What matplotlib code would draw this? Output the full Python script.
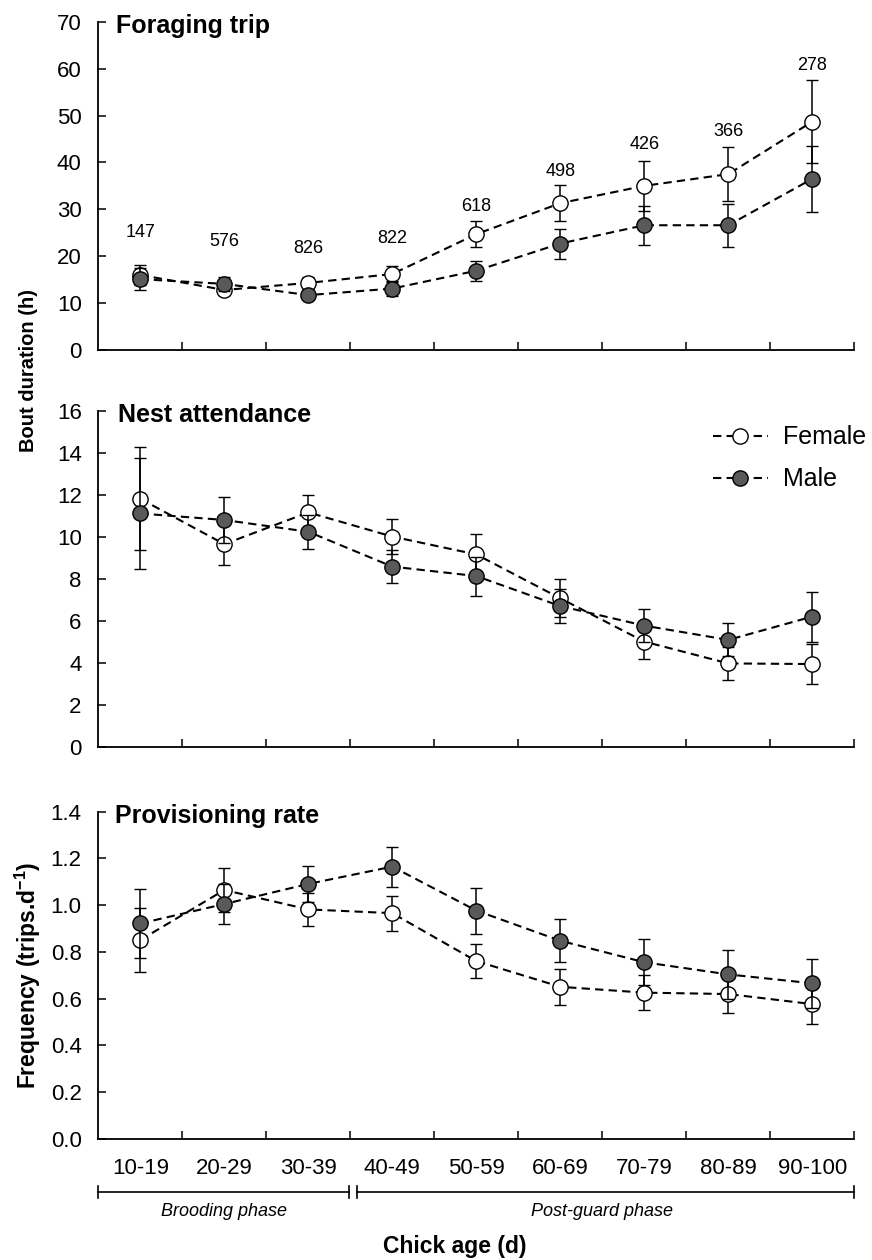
import numpy as np
import matplotlib
matplotlib.use("Agg")
import matplotlib.pyplot as plt
import matplotlib.transforms as mtransforms
from matplotlib.lines import Line2D
from matplotlib.ticker import FormatStrFormatter

plt.rcParams['font.family'] = ['Liberation Sans', 'DejaVu Sans']
plt.rcParams['mathtext.fontset'] = 'custom'
plt.rcParams['mathtext.rm'] = 'Liberation Sans'
plt.rcParams['mathtext.bf'] = 'Liberation Sans:bold'

# chick age classes (d)
age_classes = ["10-19", "20-29", "30-39", "40-49", "50-59",
               "60-69", "70-79", "80-89", "90-100"]

# Foraging trip duration (h)
trip_female = [16.0, 12.8, 14.3, 16.2, 24.7, 31.3, 35.0, 37.5, 48.7]
trip_female_err = [2.2, 1.0, 1.3, 1.8, 2.8, 3.9, 5.3, 5.8, 8.9]
trip_male = [15.1, 14.1, 11.7, 13.1, 16.9, 22.7, 26.6, 26.6, 36.5]
trip_male_err = [2.3, 1.5, 0.9, 1.6, 2.1, 3.2, 4.2, 4.6, 7.0]
trip_n = [147, 576, 826, 822, 618, 498, 426, 366, 278]
trip_n_y = [25.1, 23.1, 21.7, 23.8, 30.6, 38.0, 43.9, 46.6, 60.6]

# Nest attendance bout duration (h)
nest_female = [11.82, 9.66, 11.17, 10.02, 9.17, 7.08, 5.02, 3.98, 3.95]
nest_female_err = [2.45, 1.0, 0.83, 0.82, 0.97, 0.9, 0.83, 0.79, 0.95]
nest_male = [11.12, 10.81, 10.25, 8.59, 8.14, 6.71, 5.78, 5.10, 6.21]
nest_male_err = [2.65, 1.08, 0.82, 0.8, 0.93, 0.8, 0.78, 0.79, 1.19]

# Provisioning rate (trips per day)
prov_female = [0.851, 1.065, 0.982, 0.966, 0.761, 0.651, 0.626, 0.620, 0.577]
prov_female_err = [0.138, 0.093, 0.07, 0.075, 0.073, 0.077, 0.076, 0.081, 0.085]
prov_male = [0.922, 1.005, 1.091, 1.165, 0.977, 0.848, 0.756, 0.704, 0.666]
prov_male_err = [0.147, 0.085, 0.077, 0.085, 0.098, 0.093, 0.098, 0.104, 0.104]

male_color = '#595959'
dash = (0, (4, 2.5))
x = np.arange(len(age_classes))

fig = plt.figure(figsize=(8.72, 12.6), dpi=100)
L, W = 98.3 / 872, 756 / 872
ax_top = fig.add_axes([L, 1 - 350 / 1260, W, 328.3 / 1260])
ax_mid = fig.add_axes([L, 1 - 747 / 1260, W, 336 / 1260])
ax_bot = fig.add_axes([L, 1 - 1139 / 1260, W, 327.3 / 1260])

panels = [
    (ax_top, trip_female, trip_female_err, trip_male, trip_male_err,
     (0, 70), 10, '%d', 'Foraging trip', 0.023),
    (ax_mid, nest_female, nest_female_err, nest_male, nest_male_err,
     (0, 16), 2, '%d', 'Nest attendance', 0.026),
    (ax_bot, prov_female, prov_female_err, prov_male, prov_male_err,
     (0, 1.4), 0.2, '%.1f', 'Provisioning rate', 0.022),
]

for ax, f, fe, m, me, ylim, step, fmt, title, tx in panels:
    common = dict(linestyle=dash, linewidth=1.5, color='black', ecolor='black',
                  elinewidth=1.1, capsize=4.5, capthick=1.1, marker='o',
                  markersize=11, markeredgecolor='black', markeredgewidth=1.0)
    ax.errorbar(x, f, yerr=fe, markerfacecolor='white', zorder=3, **common)
    ax.errorbar(x, m, yerr=me, markerfacecolor=male_color, zorder=4, **common)

    ax.set_xlim(-0.5, len(age_classes) - 0.5)
    ax.set_ylim(*ylim)
    ax.set_yticks(np.arange(ylim[0], ylim[1] + step / 2, step))
    ax.yaxis.set_major_formatter(FormatStrFormatter(fmt))
    ax.set_xticks(np.arange(0.5, len(age_classes), 1))
    ax.set_xticklabels([])
    ax.set_xticks(x, minor=True)
    ax.tick_params(axis='both', which='major', direction='in', length=6,
                   width=1.1, labelsize=16)
    ax.tick_params(axis='y', pad=12)
    ax.tick_params(axis='x', which='minor', length=0)
    for s in ['top', 'right']:
        ax.spines[s].set_visible(False)
    for s in ['left', 'bottom']:
        ax.spines[s].set_linewidth(1.3)
    ax.text(tx, 1 - 4 / 328, title, transform=ax.transAxes, ha='left',
            va='center', fontsize=18, fontweight='bold')

# sample sizes above the foraging trips
for i, n in enumerate(trip_n):
    ax_top.text(x[i], trip_n_y[i], str(n), ha='center', va='center', fontsize=13)

# category labels on the bottom panel only
ax_bot.set_xticklabels(age_classes, minor=True)
ax_bot.tick_params(axis='x', which='minor', labelsize=16, pad=14)

# legend
handles = [
    Line2D([], [], linestyle=dash, linewidth=1.5, color='black', marker='o',
           markersize=11, markerfacecolor='white', markeredgecolor='black'),
    Line2D([], [], linestyle=dash, linewidth=1.5, color='black', marker='o',
           markersize=11, markerfacecolor=male_color, markeredgecolor='black'),
]
ax_mid.legend(handles, ['Female', 'Male'], loc='upper left',
              bbox_to_anchor=(0.813, 0.957), frameon=False, fontsize=18,
              handlelength=2.2, handletextpad=0.6, labelspacing=0.72,
              borderpad=0, borderaxespad=0)

# phase brackets below the age classes
trans = mtransforms.blended_transform_factory(ax_bot.transData, ax_bot.transAxes)
yb, cap = -0.161, 0.018
for x0, x1 in [(-0.5, 2.49), (2.58, 8.5)]:
    ax_bot.plot([x0, x1], [yb, yb], color='black', lw=1.2, transform=trans, clip_on=False)
    for xe in (x0, x1):
        ax_bot.plot([xe, xe], [yb - cap, yb + cap], color='black', lw=1.2,
                    transform=trans, clip_on=False)
ax_bot.text(1.0, -0.223, 'Brooding phase', transform=trans, ha='center',
            va='center', fontsize=13, style='italic')
ax_bot.text(5.5, -0.223, 'Post-guard phase', transform=trans, ha='center',
            va='center', fontsize=13, style='italic')

fig.text(455 / 872, 1 - 1247 / 1260, 'Chick age (d)', ha='center',
         va='center', fontsize=16.5, fontweight='bold')
fig.text(28 / 872, 1 - 370 / 1260, 'Bout duration (h)', rotation=90, ha='center',
         va='center', fontsize=14.5, fontweight='bold')
fig.text(28 / 872, 1 - 975 / 1260, r'Frequency (trips.d$^{\mathbf{-1}}$)',
         rotation=90, ha='center', va='center', fontsize=16.5, fontweight='bold')

fig.savefig('out.png', dpi=100)
